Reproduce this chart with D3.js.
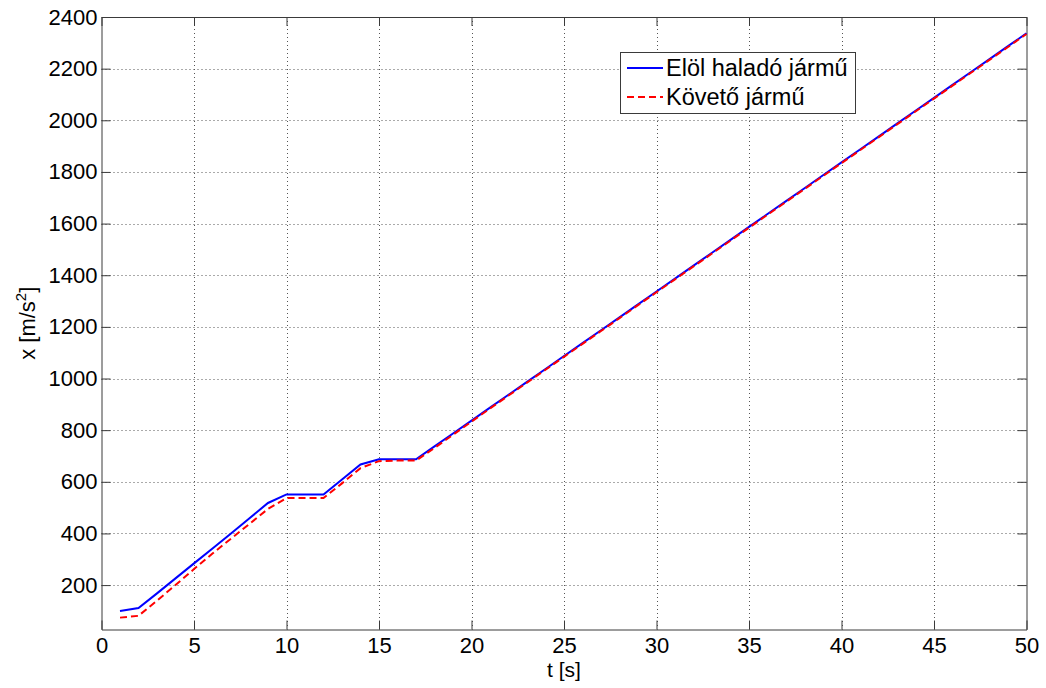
<!DOCTYPE html>
<html>
<head>
<meta charset="utf-8">
<script src="https://cdn.jsdelivr.net/npm/d3@7"></script>
<style>
  html, body { margin: 0; padding: 0; background: #fff; }
  svg { display: block; }
  text { font-family: "Liberation Sans", Arial, Helvetica, sans-serif; fill: #000; }
</style>
</head>
<body>
<svg id="chart" width="1046" height="688"></svg>
<script>
// Time axis [s]
const time = [1,2,3,4,5,6,7,8,9,10,11,12,13,14,15,16,17,18,19,20,21,22,23,24,25,26,27,28,29,30,
              31,32,33,34,35,36,37,38,39,40,41,42,43,44,45,46,47,48,49,50];

// Position of the leading vehicle
const leader = [100,111,168,226,284,342,400,459,518,551,551,551,609,667,687,687,687,737,787,837,
                887,937,987,1037,1087,1137,1187,1237,1287,1337,1387,1437,1487,1537,1587,1637,1687,1737,1787,1837,
                1887,1937,1987,2037,2087,2137,2187,2237,2287,2337];

// Position of the following vehicle
const follower = [74,81,140,200,262,322,380,437,495,537,537,537,594,653,680,682,682,731,782,833,
                  884,934,984,1034,1084,1134,1184,1234,1284,1334,1384,1434,1484,1534,1584,1634,1684,1734,1784,1834,
                  1884,1934,1984,2034,2084,2134,2184,2234,2284,2334];

const xTicks = [0,5,10,15,20,25,30,35,40,45,50];
const yTicks = [200,400,600,800,1000,1200,1400,1600,1800,2000,2200,2400];

const seriesNames = ["Elöl haladó jármű", "Követő jármű"];
const xLabel = "t [s]";

const svg = d3.select("#chart");
const L = 101.5, R = 1026.5, T = 17, B = 629.5;

const x = d3.scaleLinear().domain([0, 50]).range([L, R]);
const y = d3.scaleLinear().domain([28, 2400]).range([B, T]);

const axisColor = "#3a3a3a";
const fontSize = 22;
const fmt = d3.format("d");

// grid
const grid = svg.append("g").attr("stroke", "#555").attr("stroke-width", 1)
  .attr("stroke-dasharray", "1,3");
xTicks.filter(v => v > 0 && v < 50).forEach(v => {
  grid.append("line").attr("x1", Math.round(x(v)) + 0.5).attr("x2", Math.round(x(v)) + 0.5)
    .attr("y1", T).attr("y2", B);
});
yTicks.filter(v => v < 2400).forEach(v => {
  grid.append("line").attr("y1", Math.round(y(v)) + 0.5).attr("y2", Math.round(y(v)) + 0.5)
    .attr("x1", L).attr("x2", R);
});

// axes (ticks inward on all four sides)
const tickLen = 9;
const bottomAxis = d3.axisBottom(x).tickValues(xTicks).tickFormat(fmt)
  .tickSizeInner(-tickLen).tickSizeOuter(0).tickPadding(8);
const topAxis = d3.axisTop(x).tickValues(xTicks).tickSizeInner(-tickLen).tickSizeOuter(0).tickFormat("");
const leftAxis = d3.axisLeft(y).tickValues(yTicks).tickFormat(fmt)
  .tickSizeInner(-tickLen).tickSizeOuter(0).tickPadding(4);
const rightAxis = d3.axisRight(y).tickValues(yTicks).tickSizeInner(-tickLen).tickSizeOuter(0).tickFormat("");

function styleAxis(g) {
  g.selectAll("path, line").attr("stroke", axisColor);
  g.selectAll("text").attr("font-size", fontSize).attr("fill", "#000")
    .style("font-family", '"Liberation Sans", Arial, sans-serif');
}
svg.append("g").attr("transform", `translate(0,${B})`).call(bottomAxis).call(styleAxis);
svg.append("g").attr("transform", `translate(0,${T})`).call(topAxis).call(styleAxis);
svg.append("g").attr("transform", `translate(${L},0)`).call(leftAxis).call(styleAxis);
svg.append("g").attr("transform", `translate(${R},0)`).call(rightAxis).call(styleAxis);

// series
const line = d3.line().x((d, i) => x(time[i])).y(d => y(d));
svg.append("path").datum(leader).attr("d", line)
  .attr("fill", "none").attr("stroke", "#0000ff").attr("stroke-width", 2);
svg.append("path").datum(follower).attr("d", line)
  .attr("fill", "none").attr("stroke", "#ff0000").attr("stroke-width", 2)
  .attr("stroke-dasharray", "7,4");

// axis labels
svg.append("text").attr("x", (L + R) / 2).attr("y", 677).attr("text-anchor", "middle")
  .attr("font-size", 21).text(xLabel);
const yl = svg.append("text").attr("transform", `translate(35,${(T + B) / 2}) rotate(-90)`)
  .attr("text-anchor", "middle").attr("font-size", fontSize);
yl.append("tspan").text("x [m/s");
yl.append("tspan").attr("font-size", 15).attr("dy", -9).text("2");
yl.append("tspan").attr("dy", 9).text("]");

// legend
const lg = svg.append("g");
lg.append("rect").attr("x", 620.5).attr("y", 52.5).attr("width", 235).attr("height", 61)
  .attr("fill", "#fff").attr("stroke", axisColor).attr("stroke-width", 1);
const lgItems = [
  { name: seriesNames[0], color: "#0000ff", dash: null, cy: 68 },
  { name: seriesNames[1], color: "#ff0000", dash: "7,4", cy: 97 }
];
lgItems.forEach(it => {
  lg.append("line").attr("x1", 627).attr("x2", 663).attr("y1", it.cy).attr("y2", it.cy)
    .attr("stroke", it.color).attr("stroke-width", 2).attr("stroke-dasharray", it.dash);
  lg.append("text").attr("x", 666).attr("y", it.cy + 8).attr("font-size", 23.5).text(it.name);
});
</script>
</body>
</html>
